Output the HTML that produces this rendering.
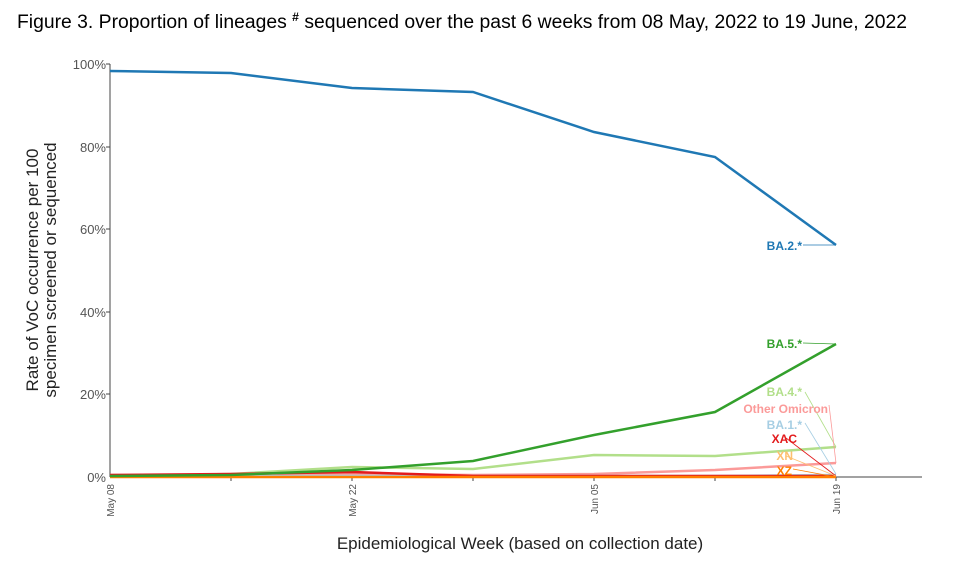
<!DOCTYPE html>
<html><head><style>body{margin:0;background:#fff;width:958px;height:556px;overflow:hidden}</style></head><body>
<svg width="958" height="556" xmlns="http://www.w3.org/2000/svg" font-family="Liberation Sans, sans-serif">
<text x="462" y="28" text-anchor="middle" font-size="19" fill="#000" textLength="890" lengthAdjust="spacingAndGlyphs">Figure 3. Proportion of lineages <tspan font-size="12" dy="-7" font-weight="bold">#</tspan><tspan dy="7"> sequenced over the past 6 weeks from 08 May, 2022 to 19 June, 2022</tspan></text>
<g font-size="13" fill="#555" text-anchor="end">
<text x="106" y="69">100%</text><text x="106" y="152">80%</text><text x="106" y="234">60%</text><text x="106" y="317">40%</text><text x="106" y="399">20%</text><text x="106" y="482">0%</text>
</g>
<g stroke="#444" stroke-width="1">
<line x1="110" y1="64" x2="110" y2="477"/><line x1="110" y1="477" x2="922" y2="477"/>
<line x1="106" y1="64" x2="110" y2="64"/><line x1="106" y1="147" x2="110" y2="147"/><line x1="106" y1="229" x2="110" y2="229"/><line x1="106" y1="312" x2="110" y2="312"/><line x1="106" y1="394" x2="110" y2="394"/>
<line x1="231" y1="477" x2="231" y2="481"/><line x1="352" y1="477" x2="352" y2="481"/><line x1="473" y1="477" x2="473" y2="481"/><line x1="594" y1="477" x2="594" y2="481"/><line x1="715" y1="477" x2="715" y2="481"/><line x1="836" y1="477" x2="836" y2="481"/>
</g>
<g font-size="10" fill="#555" text-anchor="end">
<text transform="translate(114,484) rotate(-90)">May 08</text>
<text transform="translate(356,484) rotate(-90)">May 22</text>
<text transform="translate(598,484) rotate(-90)">Jun 05</text>
<text transform="translate(840,484) rotate(-90)">Jun 19</text>
</g>
<text x="520" y="549" text-anchor="middle" font-size="17" fill="#222">Epidemiological Week (based on collection date)</text>
<text transform="translate(38,270) rotate(-90)" text-anchor="middle" font-size="17" fill="#222">Rate of VoC occurrence per 100</text>
<text transform="translate(56,270) rotate(-90)" text-anchor="middle" font-size="17" fill="#222">specimen screened or sequenced</text>
<g fill="none" stroke-width="2.5">
<polyline stroke="#fb9a99" points="110,475 231,475 352,474 473,475 594,474 715,470 836,463"/>
<polyline stroke="#b2df8a" points="110,476 231,474 352,467 473,469 594,455 715,456 836,447"/>
<polyline stroke="#a6cee3" points="110,476 231,476 352,476 473,476 594,476 715,476 836,475"/>
<polyline stroke="#e31a1c" points="110,475 231,474 352,472 473,476 594,476 715,476 836,476"/>
<polyline stroke="#ff7f00" points="110,477 231,477 352,477 473,477 594,477 715,477 836,477"/>
<polyline stroke="#33a02c" points="110,476 231,475 352,470 473,461 594,435 715,412 836,344"/>
<polyline stroke="#1f78b4" points="110,71 231,73 352,88 473,92 594,132 715,157 836,245"/>
</g>
<g stroke-width="0.8">
<line x1="803" y1="245" x2="836" y2="245" stroke="#1f78b4"/>
<line x1="803" y1="343" x2="836" y2="344" stroke="#33a02c"/>
<line x1="805" y1="392" x2="836" y2="447" stroke="#b2df8a"/>
<line x1="829" y1="405" x2="836" y2="463" stroke="#fb9a99"/>
<line x1="805" y1="423" x2="836" y2="474" stroke="#a6cee3"/>
<line x1="786" y1="438" x2="836" y2="476" stroke="#e31a1c"/>
<line x1="786" y1="456" x2="836" y2="476" stroke="#fdbf6f"/>
<line x1="793" y1="469" x2="836" y2="477" stroke="#ff7f00"/>
</g>
<g font-size="12" font-weight="bold" text-anchor="end">
<text x="802" y="250" fill="#1f78b4">BA.2.*</text>
<text x="802" y="348" fill="#33a02c">BA.5.*</text>
<text x="802" y="396" fill="#b2df8a">BA.4.*</text>
<text x="828" y="413" fill="#fb9a99">Other Omicron</text>
<text x="802" y="429" fill="#a6cee3">BA.1.*</text>
<text x="797" y="443" fill="#e31a1c">XAC</text>
<text x="793" y="460" fill="#fdbf6f">XN</text>
<text x="792" y="475" fill="#ff7f00">XZ</text>
</g>
</svg>
</body></html>
